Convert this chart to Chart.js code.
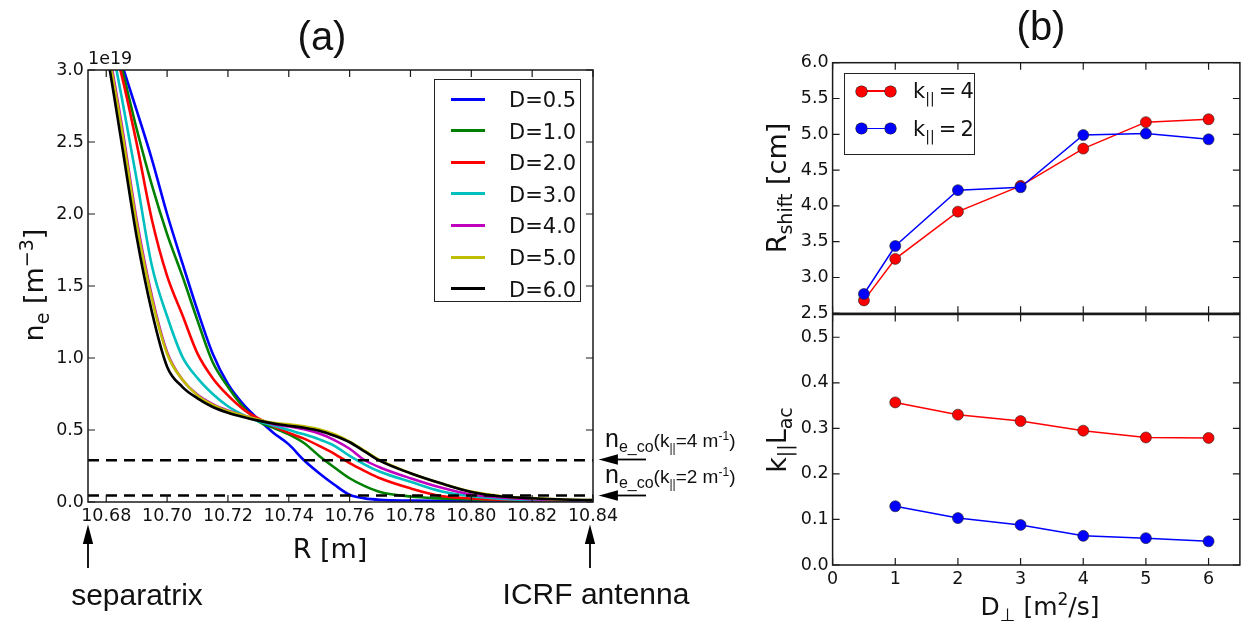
<!DOCTYPE html>
<html>
<head>
<meta charset="utf-8">
<script src="https://cdn.jsdelivr.net/npm/chart.js@4.4.1/dist/chart.umd.min.js"></script>
<style>
  html, body { margin:0; padding:0; background:#fff; }
  #wrap { position:relative; width:1246px; height:630px; overflow:hidden; font-family:"DejaVu Sans", sans-serif; color:#111; }
  canvas { position:absolute; }
  .t { position:absolute; white-space:nowrap; line-height:1; }
  .arial { font-family:"Liberation Sans", Arial, sans-serif; }
  .rot { transform: translate(-50%,-50%) rotate(-90deg); }
  .ctr { transform: translate(-50%,-50%); }
  sub, sup { line-height:0; }
  .leg { position:absolute; background:#fff; border:1.3px solid #222; box-sizing:border-box; }
  .row { position:absolute; left:0; height:0; }
  .ln { position:absolute; height:3px; width:34px; left:16px; top:-1.5px; }
  .lt { position:absolute; left:74px; top:-11px; font-size:21px; }
</style>
</head>
<body>
<div id="wrap">
  <canvas id="ca" width="625" height="545" style="left:0;top:0;width:625px;height:545px"></canvas>
  <canvas id="cb1" width="506" height="330" style="left:740px;top:0;width:506px;height:330px"></canvas>
  <canvas id="cb2" width="506" height="330" style="left:740px;top:300px;width:506px;height:330px"></canvas>

  <svg width="1246" height="630" style="position:absolute;left:0;top:0;pointer-events:none">
    <g stroke="#000" stroke-width="1.8" fill="#000">
      <line x1="88" y1="568" x2="88" y2="540"/><polygon points="88,528 84,543 92,543"/>
      <line x1="590" y1="568" x2="590" y2="540"/><polygon points="590,528 586,543 594,543"/>
      <line x1="646" y1="459.5" x2="614" y2="459.5"/><polygon points="602,459.5 617,455.5 617,463.5"/>
      <line x1="646" y1="495.5" x2="614" y2="495.5"/><polygon points="602,495.5 617,491.5 617,499.5"/>
    </g>
  </svg>

  <div class="t arial ctr" style="left:322px;top:36px;font-size:40px">(a)</div>
  <div class="t arial ctr" style="left:1041px;top:26px;font-size:40px">(b)</div>
  <div class="t" style="left:88px;top:50px;font-size:17.5px">1e19</div>
  <div class="t rot" style="left:33px;top:285px;font-size:27px">n<sub style="font-size:19px">e</sub> [m<sup style="font-size:19px">−3</sup>]</div>
  <div class="t ctr" style="left:330px;top:548px;font-size:27px">R [m]</div>
  <div class="t arial ctr" style="left:137px;top:595px;font-size:30px">separatrix</div>
  <div class="t arial ctr" style="left:596px;top:594px;font-size:30px">ICRF antenna</div>
  <div class="t arial" style="left:605px;top:426px;font-size:19px"><span style="font-size:25px">n</span><sub style="font-size:16px">e_co</sub>(k<sub style="font-size:12px">||</sub>=4 m<sup style="font-size:12px">-1</sup>)</div>
  <div class="t arial" style="left:605px;top:462px;font-size:19px"><span style="font-size:25px">n</span><sub style="font-size:16px">e_co</sub>(k<sub style="font-size:12px">||</sub>=2 m<sup style="font-size:12px">-1</sup>)</div>

  <div class="t rot" style="left:776px;top:188px;font-size:27px">R<sub style="font-size:19px">shift</sub> [cm]</div>
  <div class="t rot" style="left:776px;top:440px;font-size:27px">k<sub style="font-size:19px">||</sub>L<sub style="font-size:19px">ac</sub></div>
  <div class="t ctr" style="left:1040px;top:606px;font-size:25px">D<sub style="font-size:18px">⊥</sub> [m<sup style="font-size:17px">2</sup>/s]</div>

  <div id="legA" class="leg" style="left:434px;top:79px;width:147px;height:223px"></div>
  <div id="legB" class="leg" style="left:844px;top:73px;width:131px;height:82px"></div>
</div>
<script>
// ---------------- Panel (a) data ----------------
const R = [10.675,10.680,10.685,10.690,10.695,10.700,10.705,10.710,10.715,10.720,10.725,10.730,10.735,10.740,10.745,10.750,10.755,10.760,10.765,10.770,10.780,10.790,10.800,10.810,10.820,10.830,10.840];
const neD05 = [4.00,3.40,3.05,2.72,2.38,2.00,1.66,1.33,1.03,0.82,0.68,0.575,0.48,0.40,0.29,0.20,0.12,0.05,0.025,0.015,0.010,0.008,0.007,0.006,0.005,0.005,0.005];
const neD10 = [3.95,3.38,3.02,2.59,2.20,1.86,1.57,1.26,0.97,0.80,0.66,0.560,0.515,0.47,0.41,0.32,0.24,0.165,0.11,0.07,0.038,0.025,0.017,0.012,0.009,0.007,0.006];
const neD20 = [3.90,3.35,2.97,2.49,1.96,1.57,1.30,1.03,0.86,0.74,0.645,0.580,0.525,0.48,0.44,0.39,0.335,0.27,0.215,0.165,0.095,0.042,0.025,0.016,0.011,0.008,0.007];
const neD30 = [3.90,3.37,2.82,2.24,1.64,1.29,1.01,0.86,0.75,0.665,0.605,0.560,0.530,0.50,0.47,0.435,0.39,0.32,0.26,0.21,0.14,0.075,0.040,0.022,0.014,0.010,0.008];
const neD40 = [3.78,3.23,2.63,1.96,1.43,1.04,0.85,0.745,0.68,0.635,0.600,0.572,0.540,0.525,0.505,0.475,0.43,0.37,0.29,0.24,0.165,0.10,0.052,0.030,0.020,0.013,0.010];
const neD50 = [3.75,3.20,2.60,1.93,1.41,1.03,0.85,0.74,0.675,0.632,0.600,0.573,0.550,0.54,0.525,0.505,0.47,0.42,0.355,0.29,0.20,0.13,0.072,0.040,0.027,0.017,0.013];
const neD60 = [3.65,3.14,2.50,1.84,1.32,0.94,0.80,0.72,0.66,0.62,0.590,0.565,0.545,0.53,0.515,0.495,0.46,0.415,0.35,0.285,0.20,0.13,0.070,0.038,0.026,0.017,0.013];
const cutoffK4 = 0.29;
const cutoffK2 = 0.045;
const xTicksA = [10.68,10.70,10.72,10.74,10.76,10.78,10.80,10.82,10.84];
const yTicksA = [0.0,0.5,1.0,1.5,2.0,2.5,3.0];
const labelsA = ['D=0.5','D=1.0','D=2.0','D=3.0','D=4.0','D=5.0','D=6.0'];

// ---------------- Panel (b) data ----------------
const Dperp = [0.5,1,2,3,4,5,6];
const rshiftK4 = [2.68,3.26,3.92,4.28,4.80,5.17,5.21];
const rshiftK2 = [2.77,3.44,4.22,4.26,4.99,5.01,4.93];
const DperpL = [1,2,3,4,5,6];
const klacK4 = [0.357,0.330,0.316,0.295,0.280,0.279];
const klacK2 = [0.129,0.103,0.088,0.064,0.059,0.052];
const xTicksB = [0,1,2,3,4,5,6];
const yTicksB1 = [2.5,3.0,3.5,4.0,4.5,5.0,5.5,6.0];
const yTicksB2 = [0.0,0.1,0.2,0.3,0.4,0.5];

// ---------------- styling ----------------
const colorsA = ['#0000ff','#008000','#ff0000','#00bfbf','#bf00bf','#bfbf00','#000000'];
const tickFont = {family:'DejaVu Sans', size:17.5};
const TXT = '#111';
const noGrid = {display:false, drawTicks:false};

const frameTicks = {
  id:'frameTicks',
  afterDatasetsDraw(chart){
    const {ctx, chartArea:a, scales} = chart;
    const L = 7;
    ctx.save();
    ctx.strokeStyle = '#1a1a1a';
    ctx.lineWidth = 1.2;
    ctx.beginPath();
    scales.x.ticks.forEach(t=>{
      const p = scales.x.getPixelForValue(t.value);
      ctx.moveTo(p,a.bottom); ctx.lineTo(p,a.bottom-L);
      ctx.moveTo(p,a.top); ctx.lineTo(p,a.top+L);
    });
    scales.y.ticks.forEach(t=>{
      const p = scales.y.getPixelForValue(t.value);
      ctx.moveTo(a.left,p); ctx.lineTo(a.left+L,p);
      ctx.moveTo(a.right,p); ctx.lineTo(a.right-L,p);
    });
    ctx.stroke();
    ctx.lineWidth = 1.5;
    ctx.strokeRect(a.left,a.top,a.right-a.left,a.bottom-a.top);
    ctx.restore();
  }
};

function setTicks(arr){ return (s)=>{ s.ticks = arr.map(v=>({value:v})); }; }

// ---------------- Chart (a) ----------------
const seriesA = [neD05,neD10,neD20,neD30,neD40,neD50,neD60];
const dsA = seriesA.map((arr,i)=>({
  label: labelsA[i],
  data: R.map((r,j)=>({x:r,y:arr[j]})),
  borderColor: colorsA[i],
  backgroundColor: colorsA[i],
  borderWidth: 2.6,
  pointRadius: 0,
  cubicInterpolationMode: 'monotone',
  order: 7-i
}));
[cutoffK4, cutoffK2].forEach(v=>{
  dsA.push({
    label:'cutoff', data:[{x:10.674,y:v},{x:10.840,y:v}],
    borderColor:'#000', borderWidth:2.6, borderDash:[11,7], pointRadius:0, order:-1
  });
});

new Chart(document.getElementById('ca'), {
  type:'line',
  data:{datasets:dsA},
  options:{
    responsive:false, animation:false, devicePixelRatio:1,
    layout:{padding:{top:70,right:32,bottom:0,left:0}},
    plugins:{legend:{display:false}, tooltip:{enabled:false}},
    scales:{
      x:{type:'linear', min:10.674, max:10.840,
         afterFit:(s)=>{s.height=43;}, afterBuildTicks:setTicks(xTicksA),
         grid:noGrid, border:{display:false},
         ticks:{font:tickFont, color:TXT, padding:4, maxRotation:0, autoSkip:false, callback:(v)=>v.toFixed(2)}},
      y:{type:'linear', min:0, max:3.0,
         afterFit:(s)=>{s.width=88;}, afterBuildTicks:setTicks(yTicksA),
         grid:noGrid, border:{display:false},
         ticks:{font:tickFont, color:TXT, padding:4, callback:(v)=>v.toFixed(1)}}
    }
  },
  plugins:[frameTicks]
});

// ---------------- Chart (b) top ----------------
function bDs(x, y, col, ord){
  return {data:x.map((v,i)=>({x:v,y:y[i]})), borderColor:col, backgroundColor:col,
    borderWidth:1.5, pointRadius:5.5, pointBorderColor:'#222', pointBorderWidth:0.6,
    pointBackgroundColor:col, order:ord, clip:false};
}
new Chart(document.getElementById('cb1'), {
  type:'line',
  data:{datasets:[bDs(Dperp,rshiftK4,'#ff0000',1), bDs(Dperp,rshiftK2,'#0000ff',0)]},
  options:{
    responsive:false, animation:false, devicePixelRatio:1,
    layout:{padding:{top:62.7,right:3,bottom:16.7,left:0}},
    plugins:{legend:{display:false}, tooltip:{enabled:false}},
    scales:{
      x:{type:'linear', min:0, max:6.5, display:false, afterBuildTicks:setTicks(xTicksB)},
      y:{type:'linear', min:2.5, max:6.0, afterFit:(s)=>{s.width=92.6;}, afterBuildTicks:setTicks(yTicksB1),
         grid:noGrid, border:{display:false},
         ticks:{font:tickFont, color:TXT, padding:4, callback:(v)=>v.toFixed(1)}}
    }
  },
  plugins:[frameTicks]
});

// ---------------- Chart (b) bottom ----------------
new Chart(document.getElementById('cb2'), {
  type:'line',
  data:{datasets:[bDs(DperpL,klacK4,'#ff0000',1), bDs(DperpL,klacK2,'#0000ff',0)]},
  options:{
    responsive:false, animation:false, devicePixelRatio:1,
    layout:{padding:{top:13.3,right:3,bottom:0,left:0}},
    plugins:{legend:{display:false}, tooltip:{enabled:false}},
    scales:{
      x:{type:'linear', min:0, max:6.5, afterFit:(s)=>{s.height=65;}, afterBuildTicks:setTicks(xTicksB),
         grid:noGrid, border:{display:false},
         ticks:{font:tickFont, color:TXT, padding:4, maxRotation:0, autoSkip:false, callback:(v)=>String(v)}},
      y:{type:'linear', min:0, max:0.55, afterFit:(s)=>{s.width=92.6;}, afterBuildTicks:setTicks(yTicksB2),
         grid:noGrid, border:{display:false},
         ticks:{font:tickFont, color:TXT, padding:4, callback:(v)=>v.toFixed(1)}}
    }
  },
  plugins:[frameTicks]
});

// ---------------- legends ----------------
const legA = document.getElementById('legA');
labelsA.forEach((lab,i)=>{
  const r = document.createElement('div');
  r.className='row'; r.style.top = (19 + i*31.6)+'px';
  r.innerHTML = '<div class="ln" style="background:'+colorsA[i]+'"></div><div class="lt">'+lab+'</div>';
  legA.appendChild(r);
});
const legB = document.getElementById('legB');
[['#ff0000','4'],['#0000ff','2']].forEach((e,i)=>{
  const r = document.createElement('div');
  r.className='row'; r.style.top=(17+i*37.6)+'px';
  r.innerHTML = '<div style="position:absolute;left:16px;top:-0.75px;width:29px;height:1.5px;background:'+e[0]+'"></div>'+
    '<div style="position:absolute;left:10.5px;top:-5.5px;width:11px;height:11px;border-radius:50%;background:'+e[0]+';box-shadow:0 0 0 0.6px #222"></div>'+
    '<div style="position:absolute;left:39.5px;top:-5.5px;width:11px;height:11px;border-radius:50%;background:'+e[0]+';box-shadow:0 0 0 0.6px #222"></div>'+
    '<div style="position:absolute;left:68px;top:-12px;font-size:21px;white-space:nowrap">k<sub style="font-size:14px">||</sub>&thinsp;=&thinsp;'+e[1]+'</div>';
  legB.appendChild(r);
});
</script>
</body>
</html>
